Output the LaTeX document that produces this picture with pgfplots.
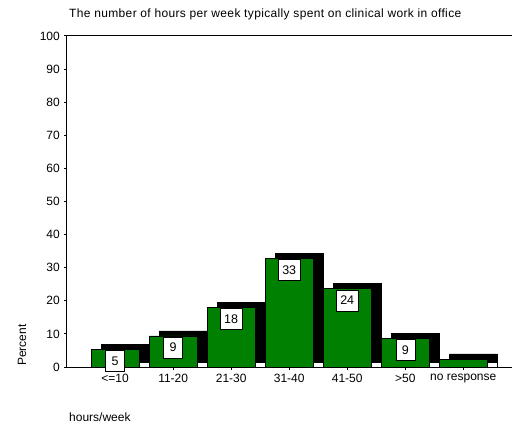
\documentclass[border=0pt]{standalone}
\usepackage{pgfplots}
\pgfplotsset{compat=1.18}
\usepackage{fontspec}
\setmainfont{Liberation Sans}
\definecolor{spssgreen}{RGB}{0,128,0}

\begin{document}
\fontsize{12}{14}\selectfont
\begin{tikzpicture}
\begin{axis}[
  name=ax,
  scale only axis,
  width=445pt, height=331pt,
  xmin=-0.83, xmax=6.84,
  ymin=0, ymax=100,
  axis x line*=box,
  axis y line*=left,
  axis line style={line width=1pt},
  xtick={0,...,6},
  xticklabels={{<=10},{11-20},{21-30},{31-40},{41-50},{>50},{no response}},
  ytick={0,10,...,100},
  xtick pos=bottom, ytick pos=left,
  tick align=outside,
  major tick length=3pt,
  tick style={line width=1pt, black},
  ticklabel style={font=\fontsize{12}{14}\selectfont},
  /pgf/number format/assume math mode=true,
  clip=false,
]
% shadow of the bars
\addplot[ybar, bar width=48pt, bar shift=10pt, fill=black, draw=black]
  coordinates {(0,6.8) (1,10.9) (2,19.6) (3,34.3) (4,25.2) (5,10.2) (6,4.0)};
% floor pieces
\addplot[ybar, bar width=48pt, bar shift=10pt, fill=white, draw=black, thin]
  coordinates {(0,1.5) (1,1.5) (2,1.5) (3,1.5) (4,1.5) (5,1.5) (6,1.5)};
% bars with labels
\addplot[ybar, bar width=48pt, bar shift=0pt, fill=spssgreen, draw=black, thin,
  point meta=explicit symbolic,
  nodes near coords,
  every node near coord/.append style={anchor=north, yshift=-1pt, fill=white,
    draw=black, thin, inner xsep=4pt, minimum width=19pt, minimum height=21pt,
    font=\fontsize{12.5}{14}\selectfont, text=black}]
  coordinates {(0,5.3)[5] (1,9.4)[9] (2,18.1)[18] (3,32.8)[33] (4,23.7)[24] (5,8.7)[9]};
\addplot[ybar, bar width=48pt, bar shift=0pt, fill=spssgreen, draw=black, thin]
  coordinates {(6,2.5)};
\end{axis}
\node[anchor=west, inner sep=0pt] at ([xshift=2pt,yshift=22pt]ax.north west)
  {\addfontfeatures{LetterSpace=3}The number of hours per week typically spent on clinical work in office};
\node[rotate=90] at ([xshift=-45pt,yshift=22pt]ax.south west) {Percent};
\node[anchor=west, inner sep=0pt] at ([xshift=2pt,yshift=-50pt]ax.south west) {hours/week};
\pgfresetboundingbox
\path[use as bounding box] ([xshift=-67pt,yshift=-59pt]ax.south west)
  rectangle ([yshift=36pt]ax.north east);
\end{tikzpicture}
\end{document}
